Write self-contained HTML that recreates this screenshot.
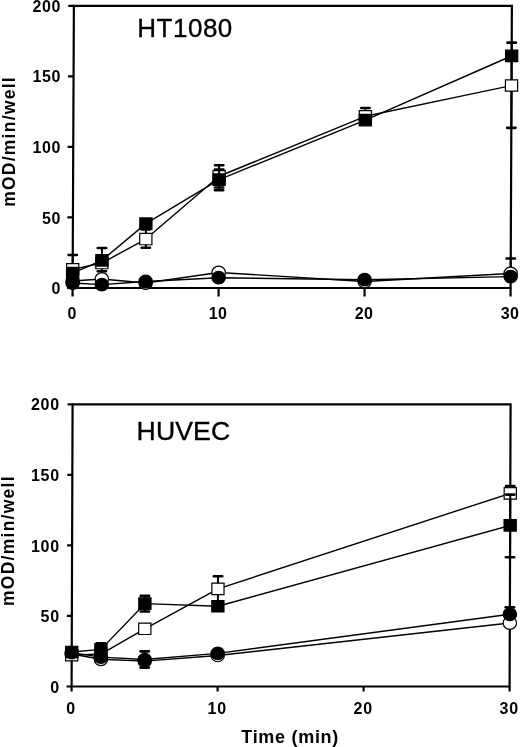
<!DOCTYPE html>
<html><head><meta charset="utf-8"><style>
html,body{margin:0;padding:0;background:#fff;width:520px;height:747px;overflow:hidden}
svg{display:block;will-change:transform}
.tl{font-family:"Liberation Sans",sans-serif;font-weight:bold;fill:#000}
.tt{font-family:"Liberation Sans",sans-serif;font-weight:normal;fill:#000;stroke:#000;stroke-width:0.35}
</style></head><body>
<svg width="520" height="747" viewBox="0 0 520 747">
<g transform="translate(0,288.0) skewX(-0.26) translate(0,-288.0)">
<path d="M72.60,5.80H510.60V288.00H72.60Z" fill="none" stroke="#000" stroke-width="2.2"/>
<line x1="67.00" y1="288.00" x2="72.60" y2="288.00" stroke="#000" stroke-width="2.2"/>
<line x1="67.00" y1="217.45" x2="72.60" y2="217.45" stroke="#000" stroke-width="2.2"/>
<line x1="67.00" y1="146.90" x2="72.60" y2="146.90" stroke="#000" stroke-width="2.2"/>
<line x1="67.00" y1="76.35" x2="72.60" y2="76.35" stroke="#000" stroke-width="2.2"/>
<line x1="67.00" y1="5.80" x2="72.60" y2="5.80" stroke="#000" stroke-width="2.2"/>
<line x1="72.60" y1="288.00" x2="72.60" y2="296.50" stroke="#000" stroke-width="2.2"/>
<line x1="218.60" y1="288.00" x2="218.60" y2="296.50" stroke="#000" stroke-width="2.2"/>
<line x1="364.60" y1="288.00" x2="364.60" y2="296.50" stroke="#000" stroke-width="2.2"/>
<line x1="510.60" y1="288.00" x2="510.60" y2="296.50" stroke="#000" stroke-width="2.2"/>
<polyline points="72.60,280.94 101.80,278.97 145.60,283.06 218.60,272.48 364.60,281.51 510.60,273.47" fill="none" stroke="#000" stroke-width="1.4" stroke-linejoin="round"/>
<polyline points="72.60,283.06 101.80,284.61 145.60,281.51 218.60,277.70 364.60,279.68 510.60,276.57" fill="none" stroke="#000" stroke-width="1.4" stroke-linejoin="round"/>
<polyline points="72.60,269.37 101.80,263.03 145.60,239.04 218.60,176.25 364.60,116.28 510.60,85.52" fill="none" stroke="#000" stroke-width="1.4" stroke-linejoin="round"/>
<polyline points="72.60,273.04 101.80,260.34 145.60,223.66 218.60,179.64 364.60,120.09 510.60,55.89" fill="none" stroke="#000" stroke-width="1.4" stroke-linejoin="round"/>
<line x1="510.60" y1="273.47" x2="510.60" y2="258.51" stroke="#000" stroke-width="2"/>
<rect x="505.10" y="257.21" width="11" height="2.6" rx="1.3" fill="#000"/>
<ellipse cx="72.60" cy="280.94" rx="6.70" ry="6.30" fill="#fff" stroke="#000" stroke-width="1.2"/>
<ellipse cx="101.80" cy="278.97" rx="6.70" ry="6.30" fill="#fff" stroke="#000" stroke-width="1.2"/>
<ellipse cx="145.60" cy="283.06" rx="6.70" ry="6.30" fill="#fff" stroke="#000" stroke-width="1.2"/>
<ellipse cx="218.60" cy="272.48" rx="6.70" ry="6.30" fill="#fff" stroke="#000" stroke-width="1.2"/>
<ellipse cx="364.60" cy="281.51" rx="6.70" ry="6.30" fill="#fff" stroke="#000" stroke-width="1.2"/>
<ellipse cx="510.60" cy="273.47" rx="6.70" ry="6.30" fill="#fff" stroke="#000" stroke-width="1.2"/>
<line x1="72.60" y1="269.37" x2="72.60" y2="254.98" stroke="#000" stroke-width="2"/>
<rect x="67.10" y="253.68" width="11" height="2.6" rx="1.3" fill="#000"/>
<line x1="101.80" y1="263.03" x2="101.80" y2="271.21" stroke="#000" stroke-width="2"/>
<rect x="96.30" y="269.91" width="11" height="2.6" rx="1.3" fill="#000"/>
<line x1="145.60" y1="239.04" x2="145.60" y2="247.79" stroke="#000" stroke-width="2"/>
<rect x="140.10" y="246.49" width="11" height="2.6" rx="1.3" fill="#000"/>
<line x1="145.60" y1="239.04" x2="145.60" y2="229.44" stroke="#000" stroke-width="2"/>
<rect x="140.10" y="228.14" width="11" height="2.6" rx="1.3" fill="#000"/>
<line x1="218.60" y1="176.25" x2="218.60" y2="165.24" stroke="#000" stroke-width="2"/>
<rect x="213.10" y="163.94" width="11" height="2.6" rx="1.3" fill="#000"/>
<line x1="364.60" y1="116.28" x2="364.60" y2="107.96" stroke="#000" stroke-width="2"/>
<rect x="359.10" y="106.66" width="11" height="2.6" rx="1.3" fill="#000"/>
<line x1="510.60" y1="85.52" x2="510.60" y2="42.63" stroke="#000" stroke-width="2"/>
<rect x="505.10" y="41.33" width="11" height="2.6" rx="1.3" fill="#000"/>
<line x1="510.60" y1="85.52" x2="510.60" y2="127.85" stroke="#000" stroke-width="2"/>
<rect x="505.10" y="126.55" width="11" height="2.6" rx="1.3" fill="#000"/>
<rect x="66.50" y="263.67" width="12.20" height="11.40" fill="#fff" stroke="#000" stroke-width="1.2"/>
<rect x="95.70" y="257.33" width="12.20" height="11.40" fill="#fff" stroke="#000" stroke-width="1.2"/>
<rect x="139.50" y="233.34" width="12.20" height="11.40" fill="#fff" stroke="#000" stroke-width="1.2"/>
<rect x="212.50" y="170.55" width="12.20" height="11.40" fill="#fff" stroke="#000" stroke-width="1.2"/>
<rect x="358.50" y="110.58" width="12.20" height="11.40" fill="#fff" stroke="#000" stroke-width="1.2"/>
<rect x="504.50" y="79.82" width="12.20" height="11.40" fill="#fff" stroke="#000" stroke-width="1.2"/>
<ellipse cx="72.60" cy="283.06" rx="6.70" ry="6.30" fill="#000" stroke="#000" stroke-width="1.2"/>
<ellipse cx="101.80" cy="284.61" rx="6.70" ry="6.30" fill="#000" stroke="#000" stroke-width="1.2"/>
<ellipse cx="145.60" cy="281.51" rx="6.70" ry="6.30" fill="#000" stroke="#000" stroke-width="1.2"/>
<ellipse cx="218.60" cy="277.70" rx="6.70" ry="6.30" fill="#000" stroke="#000" stroke-width="1.2"/>
<ellipse cx="364.60" cy="279.68" rx="6.70" ry="6.30" fill="#000" stroke="#000" stroke-width="1.2"/>
<ellipse cx="510.60" cy="276.57" rx="6.70" ry="6.30" fill="#000" stroke="#000" stroke-width="1.2"/>
<line x1="101.80" y1="260.34" x2="101.80" y2="247.93" stroke="#000" stroke-width="2"/>
<rect x="96.30" y="246.63" width="11" height="2.6" rx="1.3" fill="#000"/>
<line x1="218.60" y1="179.64" x2="218.60" y2="169.62" stroke="#000" stroke-width="2"/>
<rect x="213.10" y="168.32" width="11" height="2.6" rx="1.3" fill="#000"/>
<line x1="218.60" y1="179.64" x2="218.60" y2="187.54" stroke="#000" stroke-width="2"/>
<rect x="213.10" y="186.24" width="11" height="2.6" rx="1.3" fill="#000"/>
<line x1="218.60" y1="179.64" x2="218.60" y2="190.22" stroke="#000" stroke-width="2"/>
<rect x="213.10" y="188.92" width="11" height="2.6" rx="1.3" fill="#000"/>
<rect x="66.50" y="267.34" width="12.20" height="11.40" fill="#000" stroke="#000" stroke-width="1.2"/>
<rect x="95.70" y="254.64" width="12.20" height="11.40" fill="#000" stroke="#000" stroke-width="1.2"/>
<rect x="139.50" y="217.96" width="12.20" height="11.40" fill="#000" stroke="#000" stroke-width="1.2"/>
<rect x="212.50" y="173.94" width="12.20" height="11.40" fill="#000" stroke="#000" stroke-width="1.2"/>
<rect x="358.50" y="114.39" width="12.20" height="11.40" fill="#000" stroke="#000" stroke-width="1.2"/>
<rect x="504.50" y="50.19" width="12.20" height="11.40" fill="#000" stroke="#000" stroke-width="1.2"/>
</g>
<text x="61.20" y="294.10" text-anchor="end" class="tl" font-size="16" letter-spacing="0.7">0</text>
<text x="61.20" y="223.55" text-anchor="end" class="tl" font-size="16" letter-spacing="0.7">50</text>
<text x="61.20" y="153.00" text-anchor="end" class="tl" font-size="16" letter-spacing="0.7">100</text>
<text x="61.20" y="82.45" text-anchor="end" class="tl" font-size="16" letter-spacing="0.7">150</text>
<text x="61.20" y="11.90" text-anchor="end" class="tl" font-size="16" letter-spacing="0.7">200</text>
<text x="72.10" y="318.60" text-anchor="middle" class="tl" font-size="16" letter-spacing="0.5">0</text>
<text x="218.10" y="318.60" text-anchor="middle" class="tl" font-size="16" letter-spacing="0.5">10</text>
<text x="364.10" y="318.60" text-anchor="middle" class="tl" font-size="16" letter-spacing="0.5">20</text>
<text x="510.10" y="318.60" text-anchor="middle" class="tl" font-size="16" letter-spacing="0.5">30</text>
<text x="137.3" y="36.6" class="tt" font-size="26" letter-spacing="0.5">HT1080</text>
<text transform="translate(14.8,141.5) rotate(-90)" text-anchor="middle" class="tl" font-size="17.5" letter-spacing="1.25">mOD/min/well</text>
<g transform="translate(0,686.5) skewX(-0.2) translate(0,-686.5)">
<path d="M71.60,404.30H509.60V686.50H71.60Z" fill="none" stroke="#000" stroke-width="2.2"/>
<line x1="66.60" y1="686.50" x2="71.60" y2="686.50" stroke="#000" stroke-width="2.2"/>
<line x1="66.60" y1="615.95" x2="71.60" y2="615.95" stroke="#000" stroke-width="2.2"/>
<line x1="66.60" y1="545.40" x2="71.60" y2="545.40" stroke="#000" stroke-width="2.2"/>
<line x1="66.60" y1="474.85" x2="71.60" y2="474.85" stroke="#000" stroke-width="2.2"/>
<line x1="66.60" y1="404.30" x2="71.60" y2="404.30" stroke="#000" stroke-width="2.2"/>
<line x1="71.60" y1="686.50" x2="71.60" y2="691.50" stroke="#000" stroke-width="2.2"/>
<line x1="217.60" y1="686.50" x2="217.60" y2="691.50" stroke="#000" stroke-width="2.2"/>
<line x1="363.60" y1="686.50" x2="363.60" y2="691.50" stroke="#000" stroke-width="2.2"/>
<line x1="509.60" y1="686.50" x2="509.60" y2="691.50" stroke="#000" stroke-width="2.2"/>
<polyline points="71.60,654.05 100.80,659.27 144.60,661.10 217.60,655.46 509.60,623.00" fill="none" stroke="#000" stroke-width="1.4" stroke-linejoin="round"/>
<polyline points="71.60,652.64 100.80,657.15 144.60,659.55 217.60,653.34 509.60,614.26" fill="none" stroke="#000" stroke-width="1.4" stroke-linejoin="round"/>
<polyline points="71.60,655.18 100.80,654.05 144.60,628.79 217.60,588.86 509.60,493.33" fill="none" stroke="#000" stroke-width="1.4" stroke-linejoin="round"/>
<polyline points="71.60,651.93 100.80,649.39 144.60,603.67 217.60,606.21 509.60,525.36" fill="none" stroke="#000" stroke-width="1.4" stroke-linejoin="round"/>
<ellipse cx="71.60" cy="654.05" rx="6.70" ry="6.30" fill="#fff" stroke="#000" stroke-width="1.2"/>
<ellipse cx="100.80" cy="659.27" rx="6.70" ry="6.30" fill="#fff" stroke="#000" stroke-width="1.2"/>
<ellipse cx="144.60" cy="661.10" rx="6.70" ry="6.30" fill="#fff" stroke="#000" stroke-width="1.2"/>
<ellipse cx="217.60" cy="655.46" rx="6.70" ry="6.30" fill="#fff" stroke="#000" stroke-width="1.2"/>
<ellipse cx="509.60" cy="623.00" rx="6.70" ry="6.30" fill="#fff" stroke="#000" stroke-width="1.2"/>
<line x1="217.60" y1="588.86" x2="217.60" y2="576.30" stroke="#000" stroke-width="2"/>
<rect x="212.10" y="575.00" width="11" height="2.6" rx="1.3" fill="#000"/>
<line x1="217.60" y1="588.86" x2="217.60" y2="602.55" stroke="#000" stroke-width="2"/>
<rect x="212.10" y="601.25" width="11" height="2.6" rx="1.3" fill="#000"/>
<line x1="509.60" y1="493.33" x2="509.60" y2="486.14" stroke="#000" stroke-width="2"/>
<rect x="504.10" y="484.84" width="11" height="2.6" rx="1.3" fill="#000"/>
<rect x="65.50" y="649.48" width="12.20" height="11.40" fill="#fff" stroke="#000" stroke-width="1.2"/>
<rect x="94.70" y="648.35" width="12.20" height="11.40" fill="#fff" stroke="#000" stroke-width="1.2"/>
<rect x="138.50" y="623.09" width="12.20" height="11.40" fill="#fff" stroke="#000" stroke-width="1.2"/>
<rect x="211.50" y="583.16" width="12.20" height="11.40" fill="#fff" stroke="#000" stroke-width="1.2"/>
<rect x="503.50" y="487.63" width="12.20" height="11.40" fill="#fff" stroke="#000" stroke-width="1.2"/>
<line x1="144.60" y1="659.55" x2="144.60" y2="651.37" stroke="#000" stroke-width="2"/>
<rect x="139.10" y="650.07" width="11" height="2.6" rx="1.3" fill="#000"/>
<line x1="144.60" y1="659.55" x2="144.60" y2="667.59" stroke="#000" stroke-width="2"/>
<rect x="139.10" y="666.29" width="11" height="2.6" rx="1.3" fill="#000"/>
<line x1="509.60" y1="614.26" x2="509.60" y2="607.20" stroke="#000" stroke-width="2"/>
<rect x="504.10" y="605.90" width="11" height="2.6" rx="1.3" fill="#000"/>
<ellipse cx="71.60" cy="652.64" rx="6.70" ry="6.30" fill="#000" stroke="#000" stroke-width="1.2"/>
<ellipse cx="100.80" cy="657.15" rx="6.70" ry="6.30" fill="#000" stroke="#000" stroke-width="1.2"/>
<ellipse cx="144.60" cy="659.55" rx="6.70" ry="6.30" fill="#000" stroke="#000" stroke-width="1.2"/>
<ellipse cx="217.60" cy="653.34" rx="6.70" ry="6.30" fill="#000" stroke="#000" stroke-width="1.2"/>
<ellipse cx="509.60" cy="614.26" rx="6.70" ry="6.30" fill="#000" stroke="#000" stroke-width="1.2"/>
<line x1="100.80" y1="649.39" x2="100.80" y2="643.32" stroke="#000" stroke-width="2"/>
<rect x="95.30" y="642.02" width="11" height="2.6" rx="1.3" fill="#000"/>
<line x1="144.60" y1="603.67" x2="144.60" y2="595.91" stroke="#000" stroke-width="2"/>
<rect x="139.10" y="594.61" width="11" height="2.6" rx="1.3" fill="#000"/>
<line x1="144.60" y1="603.67" x2="144.60" y2="611.43" stroke="#000" stroke-width="2"/>
<rect x="139.10" y="610.13" width="11" height="2.6" rx="1.3" fill="#000"/>
<line x1="509.60" y1="525.36" x2="509.60" y2="494.60" stroke="#000" stroke-width="2"/>
<rect x="504.10" y="493.30" width="11" height="2.6" rx="1.3" fill="#000"/>
<line x1="509.60" y1="525.36" x2="509.60" y2="557.25" stroke="#000" stroke-width="2"/>
<rect x="504.10" y="555.95" width="11" height="2.6" rx="1.3" fill="#000"/>
<rect x="65.50" y="646.23" width="12.20" height="11.40" fill="#000" stroke="#000" stroke-width="1.2"/>
<rect x="94.70" y="643.69" width="12.20" height="11.40" fill="#000" stroke="#000" stroke-width="1.2"/>
<rect x="138.50" y="597.97" width="12.20" height="11.40" fill="#000" stroke="#000" stroke-width="1.2"/>
<rect x="211.50" y="600.51" width="12.20" height="11.40" fill="#000" stroke="#000" stroke-width="1.2"/>
<rect x="503.50" y="519.66" width="12.20" height="11.40" fill="#000" stroke="#000" stroke-width="1.2"/>
</g>
<text x="59.80" y="692.60" text-anchor="end" class="tl" font-size="16" letter-spacing="0.7">0</text>
<text x="59.80" y="622.05" text-anchor="end" class="tl" font-size="16" letter-spacing="0.7">50</text>
<text x="59.80" y="551.50" text-anchor="end" class="tl" font-size="16" letter-spacing="0.7">100</text>
<text x="59.80" y="480.95" text-anchor="end" class="tl" font-size="16" letter-spacing="0.7">150</text>
<text x="59.80" y="410.40" text-anchor="end" class="tl" font-size="16" letter-spacing="0.7">200</text>
<text x="71.20" y="713.80" text-anchor="middle" class="tl" font-size="16" letter-spacing="0.9">0</text>
<text x="217.20" y="713.80" text-anchor="middle" class="tl" font-size="16" letter-spacing="0.9">10</text>
<text x="363.20" y="713.80" text-anchor="middle" class="tl" font-size="16" letter-spacing="0.9">20</text>
<text x="509.20" y="713.80" text-anchor="middle" class="tl" font-size="16" letter-spacing="0.9">30</text>
<text x="136.6" y="440.2" class="tt" font-size="26.6" letter-spacing="0.1">HUVEC</text>
<text transform="translate(13.6,540.6) rotate(-90)" text-anchor="middle" class="tl" font-size="17.5" letter-spacing="1.25">mOD/min/well</text>
<text x="241.3" y="742.5" class="tl" font-size="18" letter-spacing="0.7">Time (min)</text>
</svg>
</body></html>
